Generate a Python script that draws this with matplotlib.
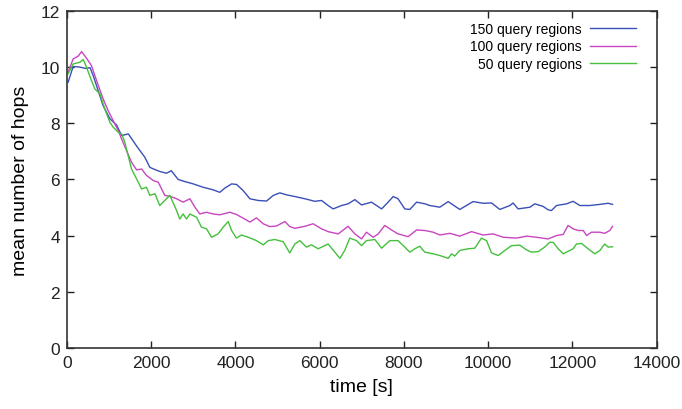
import numpy as np
import matplotlib.pyplot as plt

plt.rcParams["font.family"] = ["Liberation Sans", "DejaVu Sans"]

# 150 query regions
t_150 = [30, 150, 300, 450, 550, 625, 860, 1020, 1180, 1300, 1460, 1650, 1850, 1970,
         2090, 2210, 2365, 2480, 2640, 2760, 3000, 3235, 3470, 3630, 3750, 3910, 4030,
         4185, 4345, 4540, 4740, 4900, 5055, 5215, 5410, 5650, 5885, 6045, 6200, 6320,
         6520, 6675, 6835, 6995, 7230, 7470, 7625, 7745, 7860, 8020, 8140, 8300, 8500,
         8615, 8850, 9050, 9325, 9640, 9880, 10080, 10275, 10515, 10590, 10710, 10990,
         11105, 11300, 11420, 11500, 11620, 11860, 12015, 12175, 12410, 12650, 12845, 12950]
v_150 = [9.46, 10.02, 10.0, 9.95, 9.98, 9.7, 8.63, 8.16, 7.94, 7.56, 7.62, 7.2, 6.79, 6.43,
         6.35, 6.28, 6.22, 6.31, 6.0, 5.94, 5.84, 5.72, 5.63, 5.54, 5.69, 5.84, 5.82,
         5.6, 5.31, 5.25, 5.23, 5.43, 5.52, 5.45, 5.39, 5.31, 5.22, 5.25, 5.07, 4.95,
         5.07, 5.13, 5.28, 5.09, 5.19, 4.95, 5.19, 5.39, 5.31, 4.95, 4.93, 5.19, 5.13,
         5.07, 5.01, 5.21, 4.93, 5.21, 5.15, 5.16, 4.93, 5.07, 5.16, 4.95, 5.01,
         5.13, 5.04, 4.92, 4.89, 5.07, 5.13, 5.22, 5.07, 5.07, 5.11, 5.15, 5.11]

# 100 query regions
t_100 = [30, 150, 270, 350, 465, 585, 705, 860, 980, 1100, 1220, 1300, 1415, 1535, 1655,
         1775, 1890, 2050, 2170, 2325, 2445, 2605, 2760, 2920, 3040, 3155, 3315, 3470,
         3630, 3870, 4025, 4185, 4345, 4500, 4660, 4815, 4975, 5175, 5290, 5410, 5650,
         5845, 6045, 6200, 6440, 6675, 6835, 6995, 7110, 7270, 7390, 7545, 7705, 7860,
         8100, 8300, 8500, 8695, 8850, 9090, 9325, 9605, 9880, 10115, 10355, 10670,
         10910, 11145, 11420, 11620, 11780, 11895, 12015, 12135, 12255, 12335, 12450,
         12650, 12765, 12885, 12950]
v_100 = [9.82, 10.29, 10.39, 10.55, 10.32, 10.05, 9.52, 8.87, 8.45, 8.09, 7.74, 7.44, 7.03,
         6.61, 6.34, 6.37, 6.14, 5.96, 5.9, 5.43, 5.4, 5.31, 5.19, 5.31, 5.01, 4.77,
         4.83, 4.77, 4.74, 4.83, 4.75, 4.62, 4.48, 4.63, 4.42, 4.32, 4.34, 4.5, 4.32,
         4.26, 4.33, 4.42, 4.24, 4.14, 4.06, 4.33, 4.06, 3.88, 4.12, 3.94, 4.06, 4.36,
         4.2, 4.06, 3.96, 4.2, 4.18, 4.12, 4.02, 4.08, 3.98, 4.14, 4.02, 4.06, 3.94,
         3.91, 3.98, 3.94, 3.88, 4.0, 4.04, 4.36, 4.24, 4.18, 4.18, 4.0, 4.12, 4.12,
         4.08, 4.18, 4.33]

# 50 query regions
t_50 = [30, 150, 310, 390, 465, 585, 665, 785, 900, 1020, 1100, 1220, 1300, 1375, 1455,
        1535, 1655, 1775, 1890, 1970, 2090, 2205, 2365, 2445, 2605, 2680, 2760, 2840,
        2920, 3080, 3195, 3315, 3435, 3590, 3710, 3830, 3910, 4025, 4145, 4305, 4500,
        4660, 4780, 4935, 5135, 5290, 5410, 5530, 5685, 5805, 5965, 6200, 6360, 6480,
        6595, 6715, 6875, 6995, 7110, 7310, 7470, 7665, 7860, 8020, 8140, 8260, 8375,
        8495, 8695, 8850, 9050, 9130, 9205, 9325, 9525, 9680, 9840, 9960, 10080, 10235,
        10395, 10550, 10750, 10910, 11025, 11185, 11340, 11460, 11540, 11660, 11780,
        11935, 12015, 12095, 12215, 12370, 12530, 12650, 12765, 12845, 12950]
v_50 = [9.76, 10.11, 10.17, 10.27, 10.0, 9.52, 9.22, 9.05, 8.51, 8.04, 7.86, 7.68, 7.62,
        7.33, 6.85, 6.37, 6.02, 5.66, 5.72, 5.43, 5.49, 5.07, 5.31, 5.43, 4.89, 4.59,
        4.77, 4.59, 4.77, 4.65, 4.3, 4.24, 3.94, 4.06, 4.3, 4.5, 4.18, 3.91, 4.02,
        3.94, 3.82, 3.67, 3.82, 3.86, 3.78, 3.38, 3.7, 3.82, 3.59, 3.67, 3.53, 3.7,
        3.41, 3.19, 3.47, 3.91, 3.82, 3.64, 3.82, 3.86, 3.55, 3.82, 3.82, 3.59, 3.41,
        3.53, 3.62, 3.41, 3.35, 3.29, 3.19, 3.35, 3.27, 3.47, 3.53, 3.55, 3.91, 3.82,
        3.38, 3.29, 3.47, 3.64, 3.66, 3.49, 3.41, 3.43, 3.59, 3.76, 3.76, 3.53, 3.35,
        3.47, 3.53, 3.7, 3.72, 3.53, 3.35, 3.47, 3.7, 3.59, 3.6]

fig = plt.figure(figsize=(6.82, 4.10), dpi=100)
ax = fig.add_axes([0.098, 0.149, 0.865, 0.822])

ax.plot(t_150, v_150, color="#3a4fb8", lw=1.0, label="150 query regions")
ax.plot(t_100, v_100, color="#c846c0", lw=1.0, label="100 query regions")
ax.plot(t_50, v_50, color="#44c03c", lw=1.0, label="50 query regions")

ax.set_xlim(0, 14000)
ax.set_ylim(0, 12)
ax.set_xticks(np.arange(0, 14001, 2000))
ax.set_yticks(np.arange(0, 13, 2))
ax.tick_params(direction="in", top=True, right=True, length=5, width=1,
               labelsize=12.5, colors="#222222", pad=5)
for s in ax.spines.values():
    s.set_linewidth(1.2)
    s.set_color("#333333")

ax.set_xlabel("time [s]", fontsize=14, labelpad=6)
ax.set_ylabel("mean number of hops", fontsize=14, labelpad=8)

ax.legend(loc="upper right", frameon=False, markerfirst=False, fontsize=10,
          handlelength=3.3, labelspacing=0.25, handletextpad=0.6,
          borderaxespad=0.4, bbox_to_anchor=(0.984, 1.0))

fig.savefig("out.png", dpi=100)
